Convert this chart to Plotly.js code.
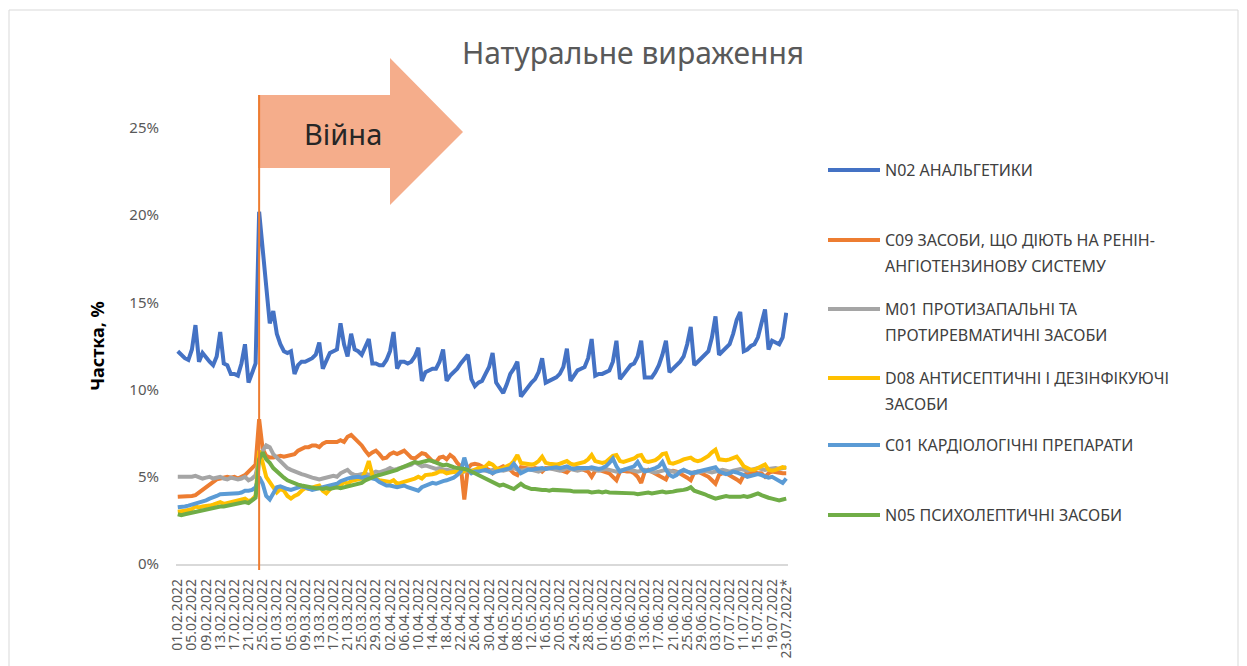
<!DOCTYPE html>
<html>
<head>
<meta charset="utf-8">
<script src="https://cdn.plot.ly/plotly-3.0.1.min.js"></script>
<style>html,body{margin:0;padding:0;background:#fff;}#chart{width:1247px;height:666px;}</style>
</head>
<body>
<div id="chart"></div>
<script>
// ---------- DATA ----------
const firstDate = [2022, 1, 1];   // 01.02.2022
const nDays = 173;                 // up to 23.07.2022
const warDate = '24.02.2022';

const seriesNames = [
  'N02 АНАЛЬГЕТИКИ',
  'C09 ЗАСОБИ, ЩО ДІЮТЬ НА РЕНІН-<br>АНГІОТЕНЗИНОВУ СИСТЕМУ',
  'M01 ПРОТИЗАПАЛЬНІ ТА<br>ПРОТИРЕВМАТИЧНІ ЗАСОБИ',
  'D08 АНТИСЕПТИЧНІ І ДЕЗІНФІКУЮЧІ<br>ЗАСОБИ',
  'C01 КАРДІОЛОГІЧНІ ПРЕПАРАТИ',
  'N05 ПСИХОЛЕПТИЧНІ ЗАСОБИ'
];
const seriesColors = ['#4472C4', '#ED7D31', '#A5A5A5', '#FFC000', '#5B9BD5', '#70AD47'];

const n02 = [
  12.2, 12.0, 11.8, 11.7, 12.3, 13.7, 11.6, 12.1, 11.8, 11.6,
  11.4, 11.9, 13.3, 11.5, 11.4, 10.9, 10.9, 10.8, 11.5, 12.6,
  10.4, 10.9, 11.5, 20.2, 18.0, 16.4, 13.8, 14.5, 13.2, 12.6,
  12.2, 12.1, 12.2, 10.9, 11.4, 11.6, 11.6, 11.7, 11.8, 12.0,
  12.7, 11.2, 11.7, 12.1, 12.2, 12.3, 13.8, 12.6, 11.9, 13.2,
  12.3, 12.2, 12.0, 12.4, 12.9, 11.5, 11.5, 11.4, 11.4, 11.7,
  12.2, 13.3, 11.2, 11.6, 11.6, 11.5, 11.6, 11.9, 12.4, 10.5,
  11.0, 11.1, 11.2, 11.2, 11.6, 12.3, 10.5, 10.8, 11.0, 11.2,
  11.5, 11.8, 12.0, 10.6, 10.2, 10.4, 10.5, 10.9, 11.3, 12.1,
  10.4, 10.1, 9.8, 10.3, 10.9, 11.2, 11.6, 9.6, 9.9, 10.2,
  10.4, 10.6, 11.0, 11.8, 10.4, 10.5, 10.6, 10.7, 10.9, 11.3,
  12.35, 10.5, 10.8, 11.1, 11.2, 11.3, 11.8, 12.9, 10.8, 10.9,
  10.9, 11.0, 11.1, 11.6, 12.8, 10.6, 10.9, 11.2, 11.4, 11.5,
  11.9, 12.8, 10.7, 10.7, 10.7, 11.0, 11.4, 12.0, 12.8, 11.0,
  11.2, 11.4, 11.6, 11.9, 12.6, 13.6, 11.4, 11.6, 11.8, 12.0,
  12.2, 13.0, 14.2, 12.0, 12.2, 12.4, 12.6, 13.2, 14.0, 14.45,
  12.2, 12.3, 12.5, 12.6, 13.0, 13.8, 14.6, 12.3, 12.8, 12.7,
  12.6, 13.0, 14.4
];
const c09 = [
  3.85, 3.85, 3.9, 3.85, 3.9, 3.95, 4.1, 4.25, 4.4, 4.6,
  4.7, 4.85, 4.9, 4.95, 5.0, 4.95, 5.0, 4.9, 5.0, 5.1,
  5.3, 5.5, 5.7, 8.3, 6.6, 6.2, 6.1, 6.1, 6.15, 6.2,
  6.15, 6.2, 6.25, 6.3, 6.5, 6.6, 6.7, 6.7, 6.8, 6.8,
  6.7, 6.9, 7.0, 7.0, 7.0, 7.0, 7.1, 7.0, 7.3, 7.4,
  7.2, 7.0, 6.8, 6.5, 6.25, 6.4, 6.5, 6.3, 6.05, 6.1,
  6.3, 6.4, 6.3, 6.4, 6.5, 6.3, 6.1, 6.05, 6.2, 6.35,
  6.3, 6.1, 5.9, 5.85, 6.1, 6.15, 6.0, 6.25, 6.1, 5.8,
  5.6, 3.7, 5.5, 5.7, 5.75, 5.7, 5.6, 5.55, 5.4, 5.2,
  5.4, 5.5, 5.6, 5.5, 5.4, 5.2, 5.1, 5.55, 5.5, 5.5,
  5.45, 5.5, 5.45, 5.3, 5.5, 5.5, 5.5, 5.45, 5.4, 5.35,
  5.25, 5.45, 5.5, 5.5, 5.45, 5.4, 5.3, 5.0, 5.35, 5.4,
  5.35, 5.3, 5.2, 5.0, 4.8, 5.3, 5.35, 5.3, 5.3, 5.2,
  5.0, 4.65, 5.3, 5.4, 5.3, 5.2, 5.1, 5.0, 4.85, 5.3,
  5.35, 5.3, 5.2, 5.1, 4.95, 4.8, 5.25, 5.3, 5.2, 5.1,
  5.0, 4.8, 4.6, 5.1, 5.2, 5.2, 5.1, 5.0, 4.85, 4.7,
  5.1, 5.2, 5.25, 5.25, 5.2, 5.2, 5.0, 5.2, 5.3, 5.25,
  5.2, 5.2, 5.2
];
const m01 = [
  5.0, 5.0, 4.95, 5.0, 5.0, 5.05, 4.95, 4.9, 4.95, 5.0,
  4.9, 4.95, 5.0, 4.9, 4.85, 4.95, 4.9, 4.85, 4.9, 5.0,
  4.8, 4.9, 5.1, 6.0, 6.5, 6.8, 6.7, 6.3, 6.1, 5.9,
  5.7, 5.5, 5.4, 5.3, 5.2, 5.15, 5.1, 5.0, 4.95, 4.9,
  4.85, 4.9, 4.95, 5.0, 5.05, 5.0, 5.2, 5.3, 5.4, 5.2,
  5.1, 5.1, 5.15, 5.2, 5.1, 5.2, 5.3, 5.25, 5.3, 5.4,
  5.5, 5.4, 5.45, 5.5, 5.55, 5.6, 5.7, 5.85, 5.7, 5.6,
  5.65, 5.6, 5.5, 5.45, 5.5, 5.4, 5.4, 5.35, 5.3, 5.3,
  5.25, 5.3, 5.4, 5.35, 5.4, 5.35, 5.4, 5.35, 5.3, 5.4,
  5.45, 5.4, 5.35, 5.4, 5.45, 5.5, 5.4, 5.35, 5.4, 5.45,
  5.4, 5.35, 5.3, 5.4, 5.45, 5.5, 5.45, 5.4, 5.35, 5.4,
  5.5, 5.45, 5.4, 5.35, 5.4, 5.45, 5.5, 5.45, 5.4, 5.35,
  5.4, 5.45, 5.4, 5.35, 5.3, 5.35, 5.4, 5.45, 5.4, 5.35,
  5.3, 5.35, 5.4, 5.35, 5.3, 5.25, 5.3, 5.35, 5.4, 5.35,
  5.3, 5.25, 5.3, 5.35, 5.3, 5.25, 5.2, 5.25, 5.3, 5.35,
  5.3, 5.25, 5.3, 5.35, 5.4, 5.35, 5.3, 5.35, 5.4, 5.45,
  5.4, 5.35, 5.4, 5.45, 5.5, 5.45, 5.4, 5.45, 5.5, 5.5,
  5.45, 5.5, 5.55
];
const d08 = [
  3.0, 3.0, 3.05, 3.1, 3.15, 3.3, 3.25, 3.3, 3.3, 3.35,
  3.4, 3.45, 3.55, 3.45, 3.5, 3.55, 3.6, 3.6, 3.65, 3.75,
  3.6, 3.7, 3.9, 6.5, 5.8, 5.0, 4.7, 4.4, 4.1, 4.3,
  4.2, 3.9, 3.75, 3.9, 4.0, 4.2, 4.35, 4.3, 4.4, 4.45,
  4.5, 4.2, 4.05, 4.3, 4.5, 4.4, 4.5, 4.7, 4.6, 4.75,
  4.8, 4.85, 4.9, 5.3, 5.9, 5.1, 4.9, 4.8, 4.75, 4.7,
  4.7, 4.8, 4.6, 4.65, 4.7, 4.75, 4.8, 4.9, 5.0, 4.9,
  5.1, 5.1, 5.15, 5.2, 5.3, 5.3, 5.2, 5.25, 5.3, 5.3,
  5.25, 5.3, 5.4, 5.3, 5.4, 5.5, 5.5, 5.6, 5.8, 5.7,
  5.5, 5.45, 5.5, 5.6, 5.7, 5.9, 6.25, 5.8, 5.75, 5.7,
  5.7, 5.75, 5.9, 6.15, 5.8, 5.75, 5.7, 5.7, 5.75, 5.8,
  5.9, 5.75, 5.7, 5.75, 5.8, 5.85, 6.0, 6.25, 5.9, 5.85,
  5.8, 5.85, 6.0, 6.2, 6.25, 5.9, 5.85, 5.9, 5.95, 6.05,
  6.2, 6.25, 5.9, 5.85, 5.9, 5.95, 6.1, 6.3, 6.35, 5.8,
  5.75, 5.8, 5.9, 6.0, 6.05, 6.1, 5.95, 5.9, 5.95, 6.05,
  6.2, 6.4, 6.55, 6.0, 5.95, 5.95, 6.0, 6.1, 6.15, 5.9,
  5.6, 5.5, 5.4, 5.4, 5.5, 5.6, 5.7, 5.4, 5.35, 5.4,
  5.45, 5.55, 5.5
];
const c01 = [
  3.25, 3.25, 3.3, 3.35, 3.4, 3.5, 3.55, 3.6, 3.65, 3.75,
  3.8, 3.9, 4.0, 4.0, 4.05, 4.0, 4.05, 4.05, 4.1, 4.2,
  4.2, 4.25, 4.4, 5.0, 4.6, 3.9, 3.7, 4.1, 4.4, 4.45,
  4.35, 4.3, 4.25, 4.3, 4.4, 4.45, 4.4, 4.3, 4.25, 4.3,
  4.35, 4.4, 4.45, 4.5, 4.55, 4.6, 4.75, 4.85, 4.9, 4.95,
  5.0, 5.0, 4.95, 5.0, 4.95, 4.9, 4.85, 4.7, 4.6, 4.5,
  4.5, 4.45, 4.4, 4.45, 4.5, 4.4, 4.35, 4.3, 4.2, 4.4,
  4.5, 4.6, 4.65, 4.6, 4.7, 4.75, 4.8, 4.85, 4.95, 5.1,
  5.3, 6.1, 5.4, 5.2, 5.3, 5.3, 5.35, 5.4, 5.3, 5.2,
  5.3, 5.35, 5.4, 5.45, 5.5, 5.75, 5.5, 5.2, 5.3, 5.4,
  5.4, 5.45, 5.5, 5.5, 5.45, 5.5, 5.5, 5.55, 5.5, 5.55,
  5.6, 5.5, 5.45, 5.5, 5.5, 5.45, 5.5, 5.55, 5.5, 5.45,
  5.5, 5.6, 5.8, 6.05, 5.6, 5.3, 5.4, 5.45, 5.5, 5.6,
  5.85, 5.5, 5.3, 5.35, 5.4, 5.5, 5.6, 5.85, 5.4, 5.1,
  5.0, 5.1, 5.3, 5.4, 5.3, 5.2, 5.25, 5.3, 5.35, 5.4,
  5.45, 5.5, 5.55, 5.3, 5.2, 5.15, 5.2, 5.3, 5.25, 5.2,
  5.1, 5.0, 5.05, 5.1, 5.15, 5.1, 5.0, 4.95, 5.0, 4.9,
  4.8, 4.65, 4.9
];
const n05 = [
  2.85, 2.8, 2.85, 2.9, 2.95, 3.0, 3.05, 3.1, 3.1, 3.15,
  3.2, 3.25, 3.3, 3.3, 3.35, 3.4, 3.4, 3.45, 3.5, 3.55,
  3.5, 3.65, 3.8, 6.0, 6.4, 6.0, 5.8, 5.5, 5.3, 5.1,
  4.95, 4.8, 4.7, 4.6, 4.55, 4.5, 4.45, 4.45, 4.4, 4.35,
  4.35, 4.3, 4.35, 4.3, 4.35, 4.4, 4.35, 4.4, 4.45, 4.5,
  4.5, 4.55, 4.65, 4.8, 4.9, 5.0, 5.05, 5.1, 5.15, 5.2,
  5.25, 5.3, 5.4, 5.5, 5.6, 5.7, 5.8, 5.85, 5.8, 5.85,
  5.9, 5.95, 5.9, 5.8, 5.7, 5.65, 5.7, 5.6, 5.55, 5.5,
  5.5, 5.45, 5.4, 5.3, 5.2, 5.1, 5.0, 4.85, 4.8, 4.7,
  4.6, 4.5, 4.55, 4.45, 4.35, 4.3, 4.45, 4.6, 4.45, 4.35,
  4.3, 4.3, 4.25, 4.25, 4.25, 4.2, 4.25, 4.25, 4.2, 4.25,
  4.2, 4.2, 4.15, 4.15, 4.2, 4.15, 4.15, 4.1, 4.15, 4.15,
  4.1, 4.15, 4.1, 4.1, 4.1, 4.05, 4.05, 4.1, 4.05, 4.05,
  4.0, 4.05, 4.05, 4.1, 4.05, 4.1, 4.1, 4.15, 4.1, 4.1,
  4.15, 4.2, 4.2, 4.25, 4.3, 4.4, 4.2, 4.15, 4.05, 4.0,
  3.9, 3.85, 3.75, 3.8, 3.85, 3.9, 3.85, 3.85, 3.8, 3.85,
  3.9, 3.85, 3.9, 4.0, 4.05, 3.95, 3.85, 3.8, 3.75, 3.7,
  3.65, 3.7, 3.75
];
const seriesValues = [n02, c09, m01, d08, c01, n05];
const yTicks = [0, 5, 10, 15, 20, 25];

// ---------- CATEGORIES (dates) ----------
const dates = [];
for (let i = 0; i < nDays; i++) {
  const d = new Date(firstDate[0], firstDate[1], firstDate[2] + i);
  const s = String(d.getDate()).padStart(2, '0') + '.' + String(d.getMonth() + 1).padStart(2, '0') + '.' + d.getFullYear();
  dates.push(s);
}
const dateLabels = dates.map((s, i) => i === nDays - 1 ? s + '*' : s);
const xIdx = dates.map((_, i) => i);
const tickIdx = xIdx.filter(i => i % 4 === 0);
const warIdx = dates.indexOf(warDate);

// ---------- HELPERS (pixel -> paper) ----------
const W = 1247, H = 666;
const L = 176, R = 788, T = 128, B = 564;
const px = p => (p - L) / (R - L);
const py = p => (B - p) / (B - T);

const FONT = 'Noto Sans, Open Sans, sans-serif';

const traces = seriesValues.map((vals, k) => ({
  type: 'scatter', mode: 'lines',
  x: xIdx, y: vals,
  name: seriesNames[k].replace('<br>', ' '),
  line: { color: seriesColors[k], width: 4 },
  showlegend: false, hoverinfo: 'skip'
}));

// custom legend
const legendRowsPx = [170, 240, 309, 378, 445, 515];
const shapes = [];
const annotations = [];

// chart frame
shapes.push({ type: 'rect', xref: 'paper', yref: 'paper', x0: px(9), x1: px(1238), y0: py(700), y1: py(10),
  line: { color: '#D9D9D9', width: 1 }, fillcolor: 'rgba(0,0,0,0)', layer: 'below' });

// war arrow
const ax0 = px(258), axh = px(390), axt = px(463);
const yb1 = py(95), yb2 = py(168), yh1 = py(58), yh2 = py(205), ytip = py(132);
shapes.push({ type: 'path', xref: 'paper', yref: 'paper',
  path: `M${ax0},${yb1} L${axh},${yb1} L${axh},${yh1} L${axt},${ytip} L${axh},${yh2} L${axh},${yb2} L${ax0},${yb2} Z`,
  fillcolor: '#F5AD8B', line: { width: 0 }, layer: 'above' });
// war line
shapes.push({ type: 'line', xref: 'x', yref: 'paper', x0: warIdx, x1: warIdx, y0: py(570), y1: py(95),
  line: { color: '#ED7D31', width: 2 }, layer: 'above' });

annotations.push({ xref: 'paper', yref: 'paper', x: px(343), y: py(133), text: 'Війна', showarrow: false,
  font: { family: FONT, size: 29, color: '#262626' }, xanchor: 'center', yanchor: 'middle' });

seriesNames.forEach((nm, k) => {
  const yl = legendRowsPx[k];
  shapes.push({ type: 'line', xref: 'paper', yref: 'paper', x0: px(828), x1: px(880), y0: py(yl), y1: py(yl),
    line: { color: seriesColors[k], width: 4 } });
  nm.split('<br>').forEach((ln, j) => {
    annotations.push({ xref: 'paper', yref: 'paper', x: px(883), y: py(yl + j * 26), text: ln, showarrow: false,
      xanchor: 'left', yanchor: 'middle', font: { family: FONT, size: 16, color: '#404040' } });
  });
});

const layout = {
  width: W, height: H,
  margin: { l: L, r: W - R, t: T, b: H - B },
  paper_bgcolor: '#ffffff', plot_bgcolor: '#ffffff',
  title: { text: 'Натуральне вираження', font: { family: FONT, size: 30, color: '#595959' },
    xref: 'container', yref: 'container', x: 633 / W, y: 1 - 53 / H, xanchor: 'center', yanchor: 'middle' },
  xaxis: {
    range: [-0.5, nDays - 0.5], tickmode: 'array', tickvals: tickIdx, ticktext: tickIdx.map(i => dateLabels[i]),
    tickangle: -90, tickfont: { family: FONT, size: 14, color: '#595959' },
    showgrid: false, zeroline: false, showline: true, linecolor: '#D9D9D9', linewidth: 1.5,
    ticks: '', ticklabelstandoff: 8, fixedrange: true
  },
  yaxis: {
    range: [0, 25], tickmode: 'array', tickvals: yTicks, ticktext: yTicks.map(v => v + '%'),
    tickfont: { family: FONT, size: 15, color: '#595959' },
    showgrid: false, zeroline: false, showline: false, ticks: '', ticklabelstandoff: 16,
    title: { text: 'Частка, %', font: { family: FONT, size: 18, color: '#000000', weight: 'bold' }, standoff: 20 },
    fixedrange: true
  },
  shapes: shapes,
  annotations: annotations,
  showlegend: false
};
Plotly.newPlot('chart', traces, layout, { staticPlot: true, displayModeBar: false });
</script>
</body>
</html>
